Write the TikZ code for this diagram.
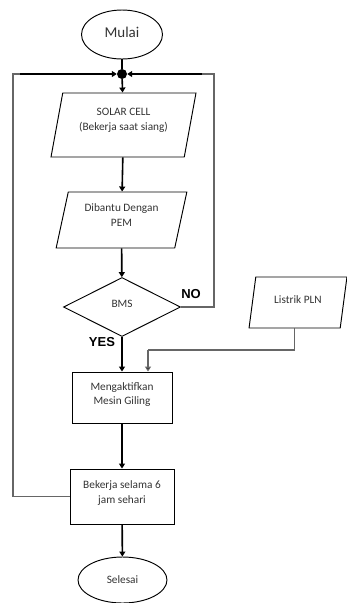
\documentclass[tikz,border=0pt]{standalone}
\usepackage{fontspec}
\setmainfont{Carlito}
\newfontfamily\labfont{Liberation Sans}
\usetikzlibrary{shapes.geometric,arrows.meta}
\definecolor{txt}{HTML}{333333}
\definecolor{lgray}{HTML}{666666}
\newcommand\dn[1]{\rule[-#1]{0pt}{#1}}
\begin{document}
\begin{tikzpicture}[x=1pt,y=-1pt,
  every node/.style={text=txt},
  shp/.style={draw=black, line width=0.95pt, align=center, inner sep=1pt,
    font=\fontsize{11.3}{14.8}\selectfont},
  term/.style={shp, ellipse},
  procbox/.style={shp, rectangle},
  para/.style={shp, trapezium, trapezium left angle=76, trapezium right angle=104,
    trapezium stretches=true},
  decis/.style={shp, diamond},
  flow/.style={draw=black, line width=1.6pt, -{Triangle[width=6pt,length=5pt]}},
  plain/.style={draw=black, line width=1.6pt},
  loopline/.style={draw=lgray, line width=1.2pt},
  lab/.style={font=\labfont\bfseries\fontsize{13}{13}\selectfont, text=black}
]
\useasboundingbox (0,0) rectangle (347,603);

\node[term, minimum width=81pt, minimum height=49pt, font=\fontsize{15}{17}\selectfont] (mulai) at (122,34.5) {Mulai\dn{5pt}};
\node[circle, fill=black, inner sep=0pt, minimum size=10pt] (dot) at (122,74) {};
\node[para, minimum width=145pt, minimum height=64pt] (solar) at (123.5,125) {SOLAR CELL\\(Bekerja saat siang)\dn{11pt}};
\node[para, minimum width=131pt, minimum height=56pt] (bantu) at (121.5,220) {Dibantu Dengan\\PEM\dn{10pt}};
\node[decis, minimum width=117pt, minimum height=59pt] (bms) at (122,307) {BMS\dn{6pt}};
\node[para, minimum width=98pt, minimum height=51pt] (pln) at (298,302.5) {Listrik PLN\dn{6pt}};
\node[procbox, minimum width=100pt, minimum height=51pt] (mesin) at (122,397.5) {Mengaktifkan\\Mesin Giling\dn{8pt}};
\node[procbox, minimum width=104pt, minimum height=55pt] (kerja) at (122,496.5) {Bekerja selama 6\\jam sehari\dn{9pt}};
\node[term, minimum width=89pt, minimum height=46pt] (selesai) at (122.5,580) {Selesai};

\node[lab] (no) at (191,294) {NO};
\node[lab] (yes) at (102,342) {YES};

\coordinate (lcorner) at (13,74);
\coordinate (lstart) at (20,74);
\coordinate (rcorner) at (214,74);
\coordinate (rstart) at (202,74);
\coordinate (j) at (148,350);

\draw[plain] (mulai) -- (dot);
\draw[flow] (dot) -- (solar);
\draw[flow] (solar) -- (bantu);
\draw[flow] (bantu) -- (bms);
\draw[flow] (bms) -- (mesin);
\draw[flow] (mesin) -- (kerja);
\draw[flow] (kerja) -- (selesai);

\draw[loopline] (bms.east) -| (rcorner) -- (rstart);
\draw[flow] (rstart) -- (dot);
\draw[loopline] (kerja.west) -| (lcorner) -- (lstart);
\draw[flow] (lstart) -- (dot);

\draw[loopline, line width=1.4pt] (pln.bottom side) |- (j);
\draw[draw=lgray, line width=1.4pt, -{Triangle[width=6pt,length=5pt,fill=black]}] (j) -- (j |- mesin.north);
\end{tikzpicture}
\end{document}
